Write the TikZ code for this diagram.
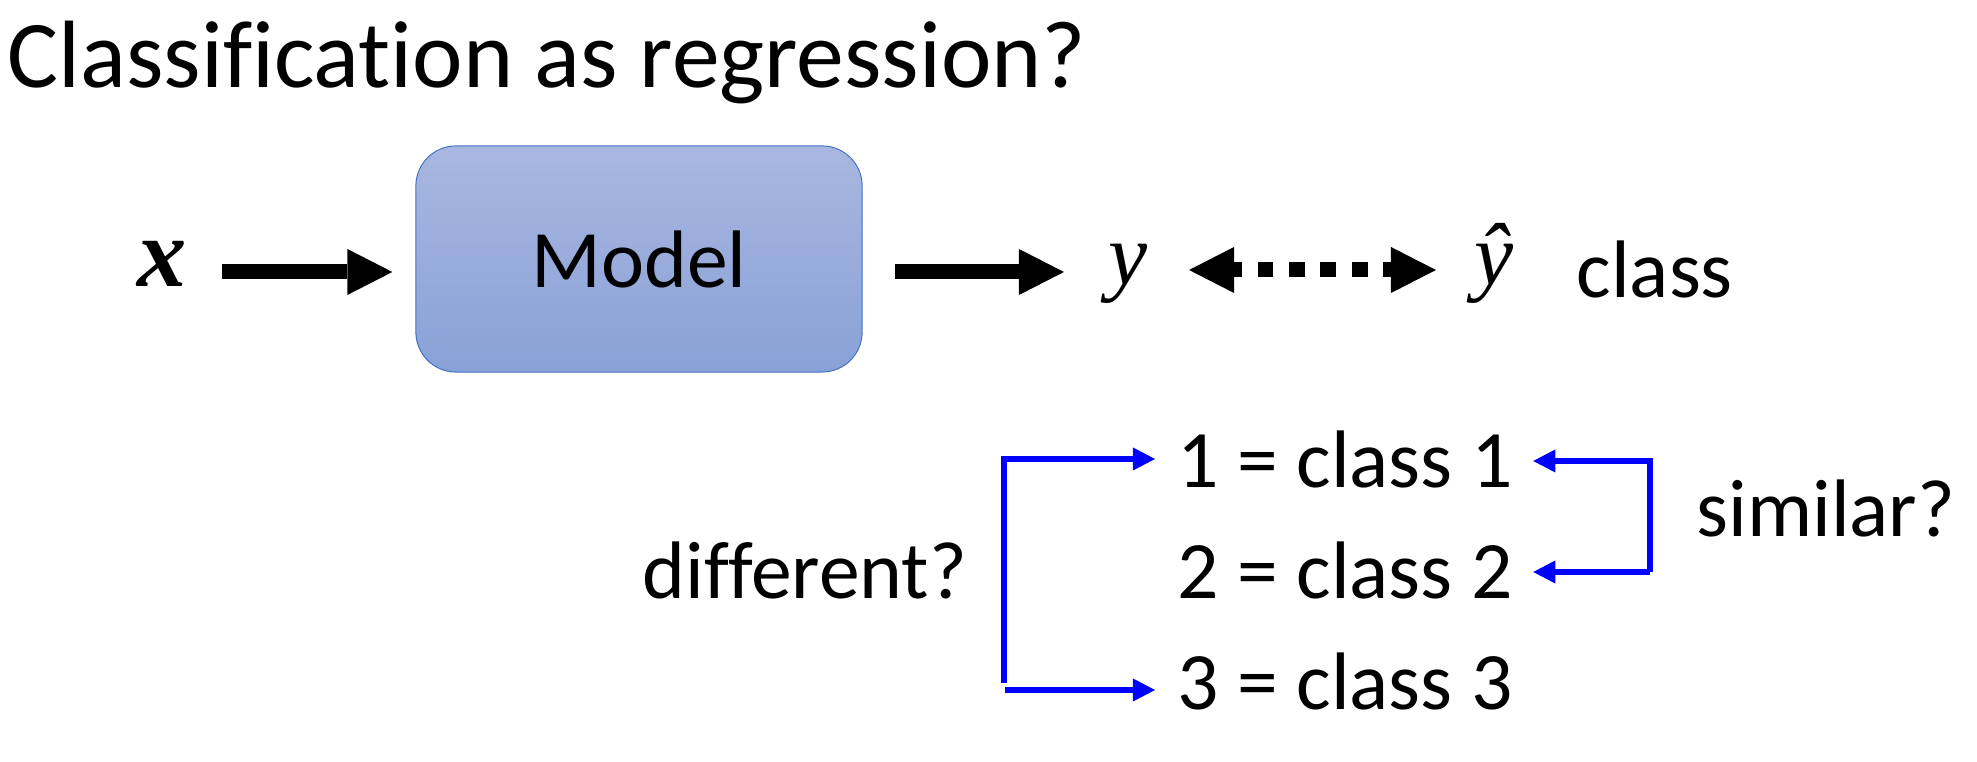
\documentclass[tikz,border=0pt]{standalone}
\usepackage{fontspec}
\setmainfont{Carlito}[Ligatures=NoCommon]
\newfontfamily\serifmath{Liberation Serif}
\usetikzlibrary{arrows.meta}
\definecolor{boxtop}{RGB}{169,183,224}
\definecolor{boxbot}{RGB}{137,161,215}
\definecolor{boxline}{RGB}{68,114,196}
\begin{document}
\begin{tikzpicture}[x=0.01cm,y=-0.01cm,
  txt/.style={inner sep=0pt, font=\fontsize{23.2}{28}\selectfont},
  mathtxt/.style={inner sep=0pt, font=\serifmath\itshape\fontsize{25}{30}\selectfont},
  bigarrow/.style={line width=0.15cm, -{Triangle[length=0.45cm,width=0.46cm,line width=0pt]}},
  bluearrow/.style={draw=blue, line width=0.06cm, -{Triangle[length=0.22cm,width=0.23cm,line width=0pt]}},
]
\useasboundingbox (0,0) rectangle (1977,762);
% title
\node[anchor=base west, inner sep=0pt, font=\fontsize{27.2}{32}\selectfont] (title) at (7,88) {Classification as regression?};
% top row
\node[inner sep=0pt, font=\serifmath\bfseries\itshape\fontsize{28}{32}\selectfont, anchor=base] (xn) at (162,287) {x};
\node[draw=boxline, line width=0.01cm, rounded corners=0.4cm, top color=boxtop, bottom color=boxbot,
      minimum width=4.46cm, minimum height=2.26cm, txt, text height=0.56cm, text depth=0cm] (model) at (639,259) {Model};
\node[mathtxt, anchor=base] (yn) at (1128,285) {y};
\node[mathtxt, anchor=base] (yh) at (1494,285) {ŷ};
\node[txt, anchor=base west] (cls) at (1576,298) {class};
\coordinate (row) at (0,272);
\coordinate (row2) at (0,270);
\draw[bigarrow, shorten <=0.6cm, shorten >=0.23cm] (xn.center |- row) -- (model.west |- row);
\draw[bigarrow, shorten <=0.32cm, shorten >=0.64cm] (model.east |- row) -- (yn.center |- row);
\draw[line width=0.15cm, dash pattern=on 0.157cm off 0.157cm, dash phase=0.0785cm,
      {Triangle[length=0.45cm,width=0.46cm,line width=0pt]}-{Triangle[length=0.45cm,width=0.46cm,line width=0pt]},
      shorten <=0.61cm, shorten >=0.58cm] (yn.center |- row2) -- (yh.center |- row2);
% classes
\node[txt, anchor=base west] (c1) at (1177,488) {1 = class 1};
\node[txt, anchor=base west] (c2) at (1177,599) {2 = class 2};
\node[txt, anchor=base west] (c3) at (1177,710) {3 = class 3};
\node[txt, anchor=base west] (diff) at (642,599) {different?};
\node[txt, anchor=base west] (sim) at (1696,537) {similar?};
% left bracket
\coordinate (lb) at (1004,683);
\coordinate (lt) at (1004,459);
\coordinate (lbb) at (1005,690);
\draw[bluearrow, shorten >=0.22cm] (lb) -- (lt) -- (c1.west |- lt);
\draw[bluearrow, shorten >=0.22cm] (lbb) -- (c3.west |- lbb);
% right bracket
\coordinate (rt) at (1650,461);
\coordinate (rb) at (1650,572);
\draw[bluearrow, shorten >=0.2cm] (rb) -- (rt) -- (c1.east |- rt);
\draw[bluearrow, shorten >=0.2cm] (rb) -- (c2.east |- rb);
\end{tikzpicture}
\end{document}
